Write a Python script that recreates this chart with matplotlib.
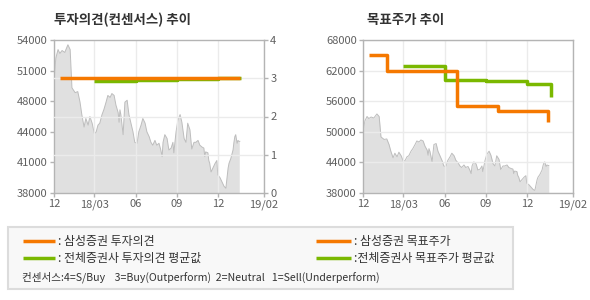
import matplotlib
matplotlib.use('Agg')
import matplotlib.pyplot as plt
import matplotlib.dates as mdates
from matplotlib.lines import Line2D
from matplotlib.patches import Rectangle
import pandas as pd

plt.rcParams['font.family'] = ['Noto Sans CJK KR', 'DejaVu Sans']

# ---------------- data ----------------
price_dates = [
    '2017-12-01', '2017-12-05', '2017-12-10', '2017-12-14', '2017-12-19', '2017-12-25',
    '2018-01-01', '2018-01-06', '2018-01-10', '2018-01-17', '2018-01-23', '2018-01-28',
    '2018-02-01', '2018-02-06', '2018-02-10', '2018-02-15', '2018-02-19', '2018-02-24',
    '2018-03-01', '2018-03-05', '2018-03-09', '2018-03-13', '2018-03-18', '2018-03-22',
    '2018-03-27', '2018-03-31', '2018-04-05', '2018-04-09', '2018-04-14', '2018-04-18',
    '2018-04-23', '2018-04-25', '2018-04-27', '2018-04-29', '2018-05-04', '2018-05-08',
    '2018-05-13', '2018-05-17', '2018-05-21', '2018-05-26', '2018-05-30', '2018-06-04',
    '2018-06-08', '2018-06-13', '2018-06-17', '2018-06-22', '2018-06-26', '2018-07-01',
    '2018-07-05', '2018-07-09', '2018-07-14', '2018-07-18', '2018-07-23', '2018-07-27',
    '2018-07-30', '2018-08-01', '2018-08-05', '2018-08-10', '2018-08-14', '2018-08-19',
    '2018-08-23', '2018-08-25', '2018-08-30', '2018-09-03', '2018-09-08', '2018-09-12',
    '2018-09-17', '2018-09-21', '2018-09-25', '2018-09-30', '2018-10-04', '2018-10-09',
    '2018-10-13', '2018-10-18', '2018-10-22', '2018-10-27', '2018-10-31', '2018-11-02',
    '2018-11-04', '2018-11-09', '2018-11-11', '2018-11-13', '2018-11-16', '2018-11-20',
    '2018-11-25', '2018-11-29', '2018-12-01', '2018-12-06', '2018-12-10', '2018-12-15',
    '2018-12-19', '2018-12-24', '2018-12-26', '2018-12-30', '2019-01-04', '2019-01-06',
    '2019-01-08', '2019-01-10', '2019-01-13', '2019-01-15', '2019-01-17', '2019-01-19',
]
price_values = [
    49800, 52100, 53000, 52600, 52900, 52700,
    53500, 53000, 49000, 48500, 48600, 47500,
    46200, 44900, 45800, 45100, 46000, 45300,
    44200, 44400, 45100, 45300, 46200, 46700,
    47500, 48200, 48000, 48400, 48200, 47200,
    46400, 45400, 46700, 46200, 44100, 47500,
    47700, 46200, 45400, 44400, 43300, 43200,
    44400, 45100, 45800, 45300, 44400, 43900,
    43300, 43000, 43500, 43000, 43200, 42500,
    41800, 43300, 44100, 43700, 42500, 42700,
    43300, 42200, 44400, 45600, 46200, 45400,
    43700, 43300, 45300, 44600, 42600, 43300,
    43300, 43500, 43000, 42800, 42700, 41800,
    42300, 42200, 41400, 41100, 40200, 40600,
    41100, 41400, 39900, 39600, 39200, 38700,
    38500, 40600, 41100, 41600, 42500, 43300,
    43900, 44100, 43200, 43500, 43400, 43400,
]

# investment opinion (right axis, 0-4)
opinion_dates = ['2017-12-14', '2019-01-19']
opinion_values = [3.0, 3.0]
cons_opinion_dates = ['2018-03-01', '2018-06-01', '2018-09-01', '2018-12-01', '2019-01-22']
cons_opinion_values = [2.92, 2.95, 2.97, 3.0, 3.0]

# target price
target_dates = ['2017-12-14', '2018-01-24', '2018-06-28', '2018-09-28', '2019-01-18']
target_values = [65000, 62000, 55000, 54000, 52000]
cons_target_dates = ['2018-03-01', '2018-06-01', '2018-09-01', '2018-12-01', '2019-01-24']
cons_target_values = [63000, 60200, 60000, 59400, 56800]

x_tick_dates = ['2017-12-01', '2018-03-01', '2018-06-01', '2018-09-01', '2018-12-01', '2019-03-14']
x_tick_labels = ['12', '18/03', '06', '09', '12', '19/02']
left_price_labels = ['38000', '41000', '44000', '48000', '51000', '54000']
right_price_labels = ['38000', '44000', '50000', '56000', '62000', '68000']
opinion_labels = ['0', '1', '2', '3', '4']

# ---------------- style ----------------
ORANGE = '#f57800'
GREEN = '#7ab800'
AREA = '#e0e0e0'
AREA_LINE = '#bdbdbd'
SPINE = '#b4b4b4'
GRID = '#ebebeb'
TICKC = '#606060'

pdates = pd.to_datetime(price_dates)
xt = pd.to_datetime(x_tick_dates)

fig = plt.figure(figsize=(5.9, 3.0), dpi=100)
fig.patch.set_facecolor('white')


def style_axis(ax, ylo, yhi, yticks, ylabels):
    ax.set_xlim(xt[0], xt[-1])
    ax.set_ylim(ylo, yhi)
    ax.set_xticks(xt)
    ax.set_xticklabels(x_tick_labels)
    ax.set_yticks(yticks)
    ax.set_yticklabels(ylabels)
    for s in ax.spines.values():
        s.set_color(SPINE)
        s.set_linewidth(1.0)
        s.set_zorder(5)
    ax.tick_params(axis='both', colors=SPINE, labelcolor=TICKC, labelsize=8,
                   length=3, width=1, pad=1.5)
    ax.grid(True, color=GRID, linewidth=1.0, zorder=2.5)
    ax.set_axisbelow(False)


def draw_price(ax):
    ax.fill_between(pdates, price_values, 0, color=AREA, linewidth=0, zorder=1)
    ax.plot(pdates, price_values, color=AREA_LINE, linewidth=0.7, zorder=2)


# ---- left chart: investment opinion ----
ax1 = fig.add_axes([54 / 590, 107 / 300, 210 / 590, 153 / 300])
lp = [38000 + i * 3200 for i in range(6)]
style_axis(ax1, 38000, 54000, lp, left_price_labels)
ax1.grid(False, axis='y')
draw_price(ax1)

ax1b = ax1.twinx()
ax1b.set_ylim(0, 4)
ax1b.set_yticks(range(5))
ax1b.set_yticklabels(opinion_labels)
for s in ax1b.spines.values():
    s.set_visible(False)
ax1b.tick_params(axis='y', colors=SPINE, labelcolor=TICKC, labelsize=8, length=3, width=1, pad=1.5)
for v in [1, 2, 3]:
    ax1b.axhline(v, color=GRID, linewidth=1.0, zorder=0)
ax1b.plot(pd.to_datetime(cons_opinion_dates), cons_opinion_values, drawstyle='steps-post',
          color=GREEN, linewidth=2.5, solid_capstyle='butt', zorder=3)
ax1b.plot(pd.to_datetime(opinion_dates), opinion_values, drawstyle='steps-post',
          color=ORANGE, linewidth=2.5, solid_capstyle='butt', zorder=4)
ax1b.set_xlim(xt[0], xt[-1])

# ---- right chart: target price ----
ax2 = fig.add_axes([363 / 590, 107 / 300, 210 / 590, 153 / 300])
rp = [38000 + i * 6000 for i in range(6)]
style_axis(ax2, 38000, 68000, rp, right_price_labels)
draw_price(ax2)
ax2.plot(pd.to_datetime(cons_target_dates), cons_target_values, drawstyle='steps-post',
         color=GREEN, linewidth=2.5, solid_capstyle='butt', zorder=3)
ax2.plot(pd.to_datetime(target_dates), target_values, drawstyle='steps-post',
         color=ORANGE, linewidth=2.5, solid_capstyle='butt', zorder=4)

# titles
fig.text(54 / 590, 1 - 20 / 300, '투자의견(컨센서스) 추이', fontsize=9.7, fontweight='bold',
         color='#333333', va='center', ha='left')
fig.text(367 / 590, 1 - 20 / 300, '목표주가 추이', fontsize=9.7, fontweight='bold',
         color='#333333', va='center', ha='left')

# legend box
W, H = 590, 300
fig.patches.append(Rectangle((8 / W, 1 - 289 / H), 505 / W, 62 / H, transform=fig.transFigure,
                             facecolor='#f8f8f8', edgecolor='#dcdcdc', linewidth=1.5))


def leg_line(x0, x1, y, color):
    fig.lines.append(Line2D([x0 / W, x1 / W], [1 - y / H, 1 - y / H], transform=fig.transFigure,
                            color=color, linewidth=2.5, solid_capstyle='butt'))


def leg_text(x, y, s, size=8.6):
    fig.text(x / W, 1 - y / H, s, fontsize=size, color='#333333', va='center', ha='left')


leg_line(23, 55, 241, ORANGE)
leg_text(58, 241, ': 삼성증권 투자의견')
leg_line(23, 55, 258, GREEN)
leg_text(58, 258, ': 전체증권사 투자의견 평균값')
leg_line(316, 351, 241, ORANGE)
leg_text(354, 241, ': 삼성증권 목표주가')
leg_line(316, 351, 258, GREEN)
leg_text(354, 258, ':전체증권사 목표주가 평균값')
leg_text(22, 277, '컨센서스:4=S/Buy    3=Buy(Outperform)  2=Neutral   1=Sell(Underperform)', size=7.6)

fig.savefig('out.png', dpi=100, facecolor='white')
